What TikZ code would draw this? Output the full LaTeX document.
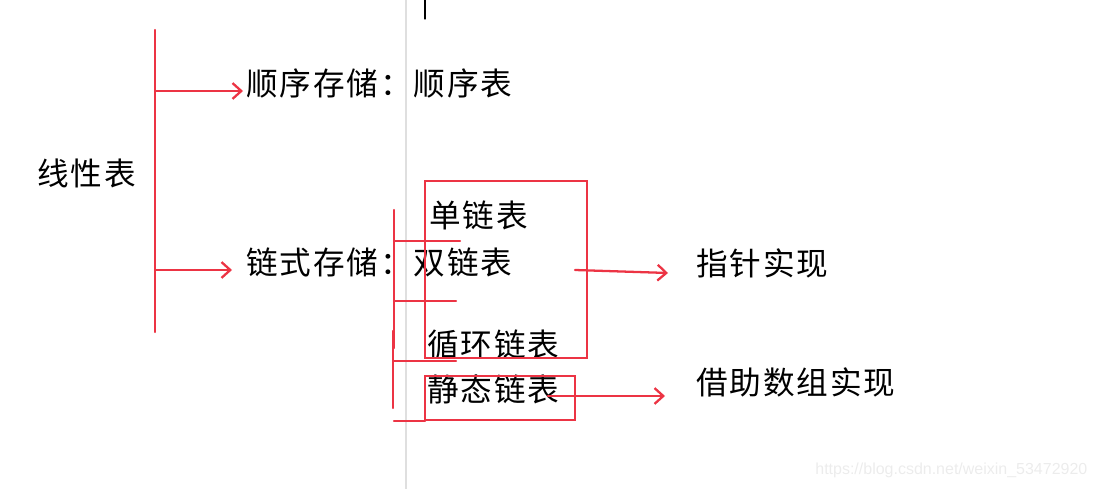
\documentclass[tikz,border=0pt]{standalone}
\usepackage{fontspec}
\newfontfamily\cjk[LetterSpace=6]{Noto Sans CJK SC}
\newfontfamily\wmfont{Liberation Sans}
\usetikzlibrary{arrows.meta}
\definecolor{penred}{RGB}{236,52,68}
\tikzset{
  lbl/.style={anchor=west, inner sep=0pt, font=\cjk\fontsize{18}{20}\selectfont},
  pen/.style={penred, line width=1.3pt},
  arr/.style={pen, -{Straight Barb[length=5pt,width=9pt]}}
}
\begin{document}
\begin{tikzpicture}[x=0.02cm, y=-0.02cm, line cap=round]
        \useasboundingbox (0,0) rectangle (1097,489);
        % 编辑器页边线与光标
        \draw[gray!25, line width=0.6pt] (406,0) -- (406,489);
        \draw[black, line width=0.6pt] (425,0) -- (425,19);

        % 左侧总括
        \node[lbl] (xxb) at (37,173) {线性表};
        \draw[pen] (155,30) -- (155,332);
        \coordinate (b1) at (155,91);
        \coordinate (b2) at (155,270);

        \node[lbl] (sx) at (246,83) {顺序存储：顺序表};
        \node[lbl] (ls) at (246,262) {链式存储：双链表};
        \coordinate (e1) at (243,91);
        \coordinate (e2) at (232,270);
        \draw[arr] (b1) -- (e1);
        \draw[arr] (b2) -- (e2);

        % 链式存储的分类
        \node[lbl] (dan) at (429,215) {单链表};
        \node[lbl] (xh) at (427,345) {循环链表};
        \node[lbl] (jt) at (427,389) {静态链表};

        % 内层括号
        \draw[pen] (394,210) -- (394,348);
        \draw[pen] (393,331) -- (393,408);
        \draw[pen] (394,241) -- (460,241);
        \draw[pen] (394,301) -- (456,301);
        \draw[pen] (394,361) -- (456,361);
        \draw[pen] (394,421) -- (425,421);

        % 方框
        \draw[pen] (425,181) rectangle (587,358);
        \draw[pen] (425,376) rectangle (575,420);

        % 实现方式
        \node[lbl] (zz) at (696,263) {指针实现};
        \node[lbl] (sz) at (696,382) {借助数组实现};
        \coordinate (p1) at (575,270);
        \coordinate (p2) at (548,396);
        \coordinate (e3) at (668,273);
        \coordinate (e4) at (665,396);
        \draw[arr] (p1) -- (e3);
        \draw[arr] (p2) -- (e4);

        % 水印
        \node[anchor=west, inner sep=0pt, text=gray!15, font=\wmfont\fontsize{9.1}{11}\selectfont] (wm) at (815,470) {https://blog.csdn.net/weixin\_53472920};
\end{tikzpicture}
\end{document}
